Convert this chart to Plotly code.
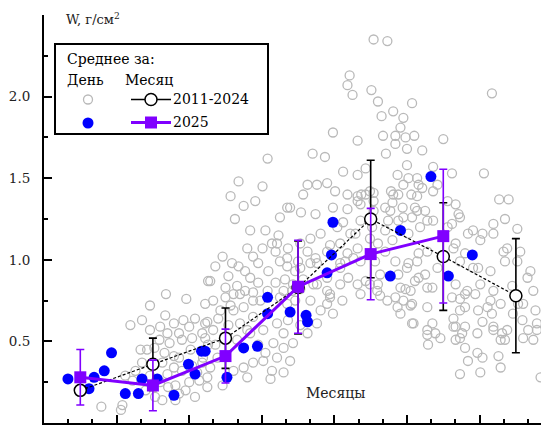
import plotly.graph_objects as go

# Daily means 2011-2024 (month as fractional value, W in g/cm^2)
day_hist_month = [
    3.29, 3.58, 3.56, 3.69, 3.85, 4.18, 4.46, 4.72, 4.17, 4.29, 4.10, 4.20, 4.36, 4.50, 4.58, 4.72,
    4.09, 4.23, 4.40, 4.54, 4.68, 4.16, 4.29, 4.36, 4.02, 4.13, 4.29, 4.40, 4.54, 4.68, 4.20, 4.10,
    4.21, 4.31, 4.45, 4.58, 4.75, 3.72, 3.76, 3.62, 4.03, 4.13, 4.31, 4.36, 4.50, 4.64, 3.85, 3.92,
    4.76, 3.96, 3.83, 3.96, 3.90, 4.52, 4.61, 4.76, 4.42, 3.96,
    4.83, 5.00, 5.11, 4.93, 5.11, 5.25, 5.38, 5.38, 5.20, 4.75, 4.83, 4.72, 5.16, 5.34, 5.52, 5.71,
    5.80, 5.66, 5.80, 5.93, 5.71, 5.52, 5.38, 5.25, 5.11, 5.30, 5.64, 5.62, 4.79, 4.75, 4.89, 4.69,
    6.40, 6.48, 6.26, 6.44, 6.61, 6.13, 6.31, 5.85, 5.96, 4.79, 5.04, 5.18, 5.30, 5.38, 5.34, 5.45,
    5.59, 5.69, 5.75, 5.64, 5.86, 6.03, 6.13, 6.24, 6.17, 6.00, 5.85, 5.69, 5.58, 5.20, 5.00, 5.16,
    5.38, 5.55, 5.73, 5.51, 5.58,
    4.86, 4.96, 5.09, 5.27, 5.45, 5.51, 5.82, 5.96, 6.07, 5.92, 5.48, 5.27, 5.07, 4.90, 5.04, 5.30,
    5.45, 5.55, 5.86, 6.03, 5.89, 5.80, 4.96, 4.86, 5.34, 5.13, 5.25, 5.41, 5.18, 5.07,
    6.20, 6.37, 6.62, 6.82, 6.93, 6.13, 6.40, 6.82, 6.93, 6.82, 5.85, 6.04, 6.24, 6.68, 6.17, 6.31,
    6.54, 6.62, 6.79, 6.58, 6.68, 6.82, 6.58, 6.69, 6.58, 6.82, 6.26, 6.40, 5.80, 6.03, 6.86, 6.99,
    7.34, 7.50, 7.64, 7.78, 7.66, 7.78, 7.55, 7.41, 7.57, 7.78, 7.41, 7.23, 7.09, 7.59, 7.78, 7.96,
    8.14, 8.23, 8.12, 8.33, 8.23, 8.47, 8.69, 8.79, 8.61, 8.69, 8.51, 8.41, 8.23, 8.14, 8.06, 7.86,
    7.64, 7.45, 7.27, 7.31, 7.45, 7.64, 7.86, 8.06, 8.23, 8.41, 8.51, 8.69, 8.88, 9.02, 9.16, 9.24,
    9.10, 8.96, 8.88, 9.10, 9.29, 7.13, 6.99, 6.86, 6.44, 6.17, 6.21, 6.40, 6.58, 6.76, 6.72, 6.86,
    7.04, 6.99, 6.86, 6.68, 6.48, 6.26, 6.07, 5.89, 5.75, 5.71, 5.85, 6.03, 6.40, 6.26, 5.93, 5.75,
    6.51, 6.44, 6.65, 7.20, 7.13, 6.93,
    7.04, 7.23, 6.71, 6.68, 6.75, 7.01, 7.10, 7.57, 8.67, 7.31, 7.45, 7.15, 7.41, 6.48, 6.82, 7.17,
    7.34, 7.48, 7.60, 7.34, 7.50, 7.71, 8.00, 7.21, 7.04, 7.28, 7.50, 7.86, 8.12, 8.56, 7.37, 7.66,
    7.38, 7.56, 7.71, 7.92, 7.52, 6.87, 8.77, 8.90, 7.30, 7.64, 7.44, 7.61, 7.75, 7.57, 7.38, 7.20,
    7.30, 7.52, 7.68, 7.78, 8.17, 8.21, 8.12, 8.34, 8.54, 8.69, 8.85, 9.02, 8.17, 8.30, 8.48, 8.65,
    8.83, 8.85, 7.66, 7.52, 7.38, 7.61, 7.75, 7.92, 7.85, 7.48, 8.17, 8.30, 7.10, 7.06, 7.10, 7.02,
    7.04, 7.20, 7.24,
    7.34, 7.45, 7.55, 7.37, 7.57, 7.85, 7.78, 7.89, 7.79, 8.23, 8.30, 8.14, 8.17, 8.30, 8.26, 8.17,
    8.30, 8.47, 8.54, 8.34, 8.23, 8.51, 8.79, 8.76, 8.48, 8.67, 8.54, 8.69, 8.81, 8.85, 8.65, 8.79,
    8.44, 9.09, 9.17, 9.24, 9.29, 9.34, 9.03, 9.06, 9.20, 8.95, 9.27,
]
day_hist_w = [
    0.10, 0.11, 0.08, 0.60, 0.63, 0.79, 0.76, 0.73, 0.66, 0.61, 0.59, 0.55, 0.55, 0.59, 0.64, 0.61,
    0.51, 0.49, 0.51, 0.52, 0.55, 0.43, 0.41, 0.40, 0.46, 0.37, 0.34, 0.32, 0.35, 0.37, 0.30, 0.25,
    0.22, 0.23, 0.20, 0.16, 0.22, 0.26, 0.32, 0.29, 0.16, 0.14, 0.14, 0.18, 0.25, 0.26, 0.37, 0.45,
    0.87, 0.57, 0.45, 0.29, 0.20, 0.45, 0.31, 0.48, 0.63, 0.72,
    0.75, 0.77, 0.79, 0.69, 0.69, 0.71, 0.75, 0.65, 0.61, 0.62, 0.57, 0.52, 0.51, 0.55, 0.57, 0.61,
    0.55, 0.49, 0.46, 0.49, 0.40, 0.38, 0.37, 0.34, 0.32, 0.28, 0.32, 0.27, 0.34, 0.28, 0.40, 0.40,
    0.73, 0.67, 0.61, 0.79, 0.75, 0.55, 0.69, 0.73, 0.75, 0.87, 0.90, 0.96, 1.07, 1.02, 0.89, 0.86,
    0.93, 1.05, 0.99, 1.10, 1.07, 1.10, 1.05, 1.01, 0.98, 0.99, 0.96, 0.86, 0.81, 0.79, 0.83, 0.84,
    0.80, 1.18, 1.15, 1.45, 1.62,
    0.96, 1.02, 0.98, 0.93, 0.98, 1.07, 0.88, 0.93, 0.88, 0.81, 0.75, 0.81, 0.72, 0.64, 0.60, 0.57,
    0.48, 0.43, 0.63, 0.60, 0.38, 0.31, 0.23, 0.48, 1.18, 1.25, 1.33, 1.36, 1.48, 1.39,
    1.65, 1.63, 1.54, 1.52, 1.56, 1.46, 1.47, 1.39, 1.40, 1.36, 1.32, 1.29, 1.28, 1.31, 1.13, 1.16,
    1.20, 1.23, 1.16, 1.10, 1.04, 1.07, 0.98, 0.89, 0.85, 0.85, 0.85, 0.81, 0.81, 0.82, 0.99, 1.13,
    0.99, 0.95, 0.99, 1.05, 0.89, 0.83, 0.81, 0.83, 0.73, 0.71, 0.67, 0.75, 0.81, 0.61, 0.57, 0.52,
    0.59, 0.69, 0.77, 0.81, 0.52, 0.55, 0.59, 0.51, 0.71, 0.81, 0.85, 0.95, 0.99, 1.07, 1.20, 1.24,
    1.30, 1.26, 1.30, 1.40, 1.46, 1.50, 1.42, 1.36, 1.26, 1.18, 1.12, 1.16, 1.07, 0.99, 0.89, 0.81,
    0.73, 0.67, 0.57, 0.52, 0.57, 0.91, 0.85, 0.79, 0.77, 0.75, 0.85, 0.89, 0.95, 1.01, 1.16, 1.24,
    1.36, 1.42, 1.34, 1.40, 1.32, 1.46, 1.40, 1.32, 1.26, 1.10, 1.01, 0.95, 1.05, 0.98, 0.85, 0.77,
    1.42, 1.09, 0.99, 1.05, 0.78, 0.87,
    2.35, 2.34, 2.13, 2.07, 2.01, 2.04, 1.97, 1.96, 2.02, 1.91, 1.87, 1.88, 1.81, 1.78, 1.73, 1.76,
    1.76, 1.75, 1.76, 1.71, 1.68, 1.67, 1.74, 1.65, 1.41, 1.42, 1.58, 1.57, 1.53, 1.53, 1.52, 1.46,
    1.40, 1.40, 1.44, 1.46, 1.50, 1.40, 1.37, 1.37, 1.35, 1.39, 1.32, 1.32, 1.30, 1.26, 1.24, 1.18,
    1.12, 1.16, 1.20, 1.24, 1.34, 1.28, 1.22, 1.16, 1.16, 1.22, 1.25, 1.19, 1.10, 1.04, 0.95, 0.93,
    1.05, 0.99, 1.04, 0.98, 0.91, 0.87, 0.91, 0.95, 0.83, 0.82, 0.85, 0.79, 0.85, 0.99, 1.10, 1.20,
    1.30, 1.32, 1.24,
    0.77, 0.75, 0.72, 0.71, 0.61, 0.61, 0.54, 0.55, 0.48, 0.76, 0.71, 0.64, 0.59, 0.59, 0.55, 0.51,
    0.46, 0.43, 0.40, 0.38, 0.30, 0.31, 0.34, 0.41, 0.69, 0.67, 0.62, 0.57, 0.55, 0.51, 0.75, 0.73,
    0.79, 0.63, 0.57, 0.51, 0.61, 0.28, 0.73, 1.05, 0.93, 0.84, 0.69,
]

# Daily means 2025
day_2025_month = [2.83, 3.12, 3.19, 3.33, 3.43, 3.62, 3.80, 3.85, 4.06, 4.29, 4.49, 4.58, 4.67, 4.72,
                  5.02, 5.25, 5.44, 5.58, 5.58, 5.89, 6.11, 6.13, 6.40, 6.46, 6.48, 7.27, 7.41, 7.83,
                  8.07, 8.40]
day_2025_w = [0.27, 0.21, 0.28, 0.32, 0.43, 0.18, 0.18, 0.27, 0.27, 0.17, 0.36, 0.30, 0.44, 0.44,
              0.28, 0.46, 0.47, 0.77, 0.67, 0.68, 0.66, 0.62, 0.92, 1.03, 1.23, 0.90, 1.18, 1.51,
              0.90, 1.03]

# Monthly means with standard deviations
months = [3, 4, 5, 6, 7, 8, 9]
mean_hist = [0.20, 0.36, 0.52, 0.83, 1.25, 1.02, 0.78]
sd_hist = [0.0, 0.16, 0.185, 0.285, 0.36, 0.33, 0.35]

months_2025 = [3, 4, 5, 6, 7, 8]
mean_2025 = [0.28, 0.23, 0.41, 0.835, 1.035, 1.145]
sd_2025 = [0.17, 0.155, 0.165, 0.285, 0.28, 0.41]

month_labels = ["3", "4", "5", "6", "7", "8", "9"]
y_ticks = [0.5, 1.0, 1.5, 2.0]

SERIF = "DejaVu Serif"
GRAY = "#b9b9b9"
BLUE = "#0000ff"
PURPLE = "#8000ff"

fig = go.Figure()

fig.add_trace(go.Scatter(
    x=day_hist_month, y=day_hist_w, mode="markers",
    marker=dict(symbol="circle-open", size=9, color=GRAY, line=dict(width=1.3, color=GRAY)),
    showlegend=False))

fig.add_trace(go.Scatter(
    x=day_2025_month, y=day_2025_w, mode="markers",
    marker=dict(symbol="circle", size=11, color=BLUE),
    showlegend=False))

fig.add_trace(go.Scatter(
    x=months, y=mean_hist, mode="lines+markers",
    line=dict(color="black", width=1.2, dash="3px,2px"),
    marker=dict(symbol="circle", size=12, color="white", line=dict(color="black", width=1.5)),
    error_y=dict(type="data", array=sd_hist, color="black", thickness=1.6, width=4),
    showlegend=False))

fig.add_trace(go.Scatter(
    x=months_2025, y=mean_2025, mode="lines+markers",
    line=dict(color=PURPLE, width=3),
    marker=dict(symbol="square", size=12, color=PURPLE),
    error_y=dict(type="data", array=sd_2025, color=PURPLE, thickness=1.6, width=4),
    showlegend=False))

# an empty trace so the month-label axis is drawn
fig.add_trace(go.Scatter(x=[], y=[], xaxis="x2", showlegend=False))

# axis ranges: month boundaries on the left, plot cut on the right
x_range = [months[0] - 0.5, 9.346]
y_range = [0, 2.5]

boundaries = [m - 0.5 for m in months] + [months[-1] + 0.5]
dekads = []
for m in months:
    dekads += [m - 1 / 6, m + 1 / 6]

fig.update_layout(
    width=541, height=437,
    margin=dict(l=44, r=0, t=15, b=14, autoexpand=False),
    paper_bgcolor="white", plot_bgcolor="white",
    font=dict(family=SERIF, size=14, color="#222"),
    xaxis=dict(
        range=x_range, showgrid=False, zeroline=False, automargin=False,
        showline=True, linecolor="black", linewidth=2,
        tickmode="array", tickvals=boundaries, showticklabels=False,
        ticks="inside", ticklen=8, tickwidth=1.6, tickcolor="black",
        minor=dict(tickmode="array", tickvals=dekads, ticks="inside", ticklen=4,
                   tickwidth=1.6, tickcolor="black", showgrid=False),
    ),
    xaxis2=dict(
        range=x_range, overlaying="x", anchor="y", side="bottom", automargin=False,
        showgrid=False, zeroline=False, showline=False,
        tickmode="array", tickvals=months, ticktext=month_labels,
        ticks="", ticklabelstandoff=15,
        tickfont=dict(family=SERIF, size=14, color="#222"),
    ),
    yaxis=dict(
        range=y_range, showgrid=False, zeroline=False, automargin=False,
        showline=True, linecolor="black", linewidth=2,
        tickmode="array", tickvals=y_ticks, ticktext=[f"{v:.1f}" for v in y_ticks],
        ticks="inside", ticklen=8, tickwidth=1.6, tickcolor="black", ticklabelstandoff=9,
        tickfont=dict(family=SERIF, size=13.5, color="#222"),
        minor=dict(tickmode="array", tickvals=[0.25, 0.75, 1.25, 1.75, 2.25], ticks="inside",
                   ticklen=4, tickwidth=1.6, tickcolor="black", showgrid=False),
    ),
)

# axis titles placed inside the plot
fig.add_annotation(xref="paper", yref="paper", x=0.04, y=0.99, xanchor="left", yanchor="middle",
                   text="W, г/см<sup>2</sup>", showarrow=False,
                   font=dict(family=SERIF, size=13, color="#222"))
fig.add_annotation(xref="paper", yref="paper", x=0.587, y=0.074, xanchor="center", yanchor="middle",
                   text="Месяцы", showarrow=False,
                   font=dict(family=SERIF, size=14, color="#222"))


# legend panel, positioned in plot-area fractions
def px(xp):
    return (xp - 44) / 497


def py(yp):
    return (423 - yp) / 408


fig.add_shape(type="rect", xref="paper", yref="paper", x0=px(55), x1=px(268), y0=py(134), y1=py(44),
              line=dict(color="black", width=2), fillcolor="white", layer="above")

legend_font = dict(family=SERIF, size=14, color="black")
fig.add_annotation(xref="paper", yref="paper", x=px(65), y=py(59), xanchor="left", yanchor="middle",
                   text="Среднее за:", showarrow=False, font=legend_font)
fig.add_annotation(xref="paper", yref="paper", x=px(65), y=py(80), xanchor="left", yanchor="middle",
                   text="День", showarrow=False, font=legend_font)
fig.add_annotation(xref="paper", yref="paper", x=px(123), y=py(80), xanchor="left", yanchor="middle",
                   text="Месяц", showarrow=False, font=legend_font)
fig.add_annotation(xref="paper", yref="paper", x=px(171), y=py(99), xanchor="left", yanchor="middle",
                   text="2011-2024", showarrow=False, font=legend_font)
fig.add_annotation(xref="paper", yref="paper", x=px(171), y=py(122), xanchor="left", yanchor="middle",
                   text="2025", showarrow=False, font=legend_font)


def dot(cx, cy, r, fill, line_color, lw):
    fig.add_shape(type="circle", xref="paper", yref="paper", xsizemode="pixel", ysizemode="pixel",
                  xanchor=px(cx), yanchor=py(cy), x0=-r, x1=r, y0=-r, y1=r,
                  fillcolor=fill, line=dict(color=line_color, width=lw), layer="above")


# day symbols
dot(88, 99.5, 4.5, "white", GRAY, 1.3)
dot(88, 123, 5.5, BLUE, BLUE, 0)
# month symbols: line + marker
fig.add_shape(type="line", xref="paper", yref="paper", x0=px(131), x1=px(171), y0=py(99.5), y1=py(99.5),
              line=dict(color="black", width=1.5), layer="above")
dot(151, 99.5, 6, "white", "black", 1.5)
fig.add_shape(type="line", xref="paper", yref="paper", x0=px(131), x1=px(171), y0=py(122.5), y1=py(122.5),
              line=dict(color=PURPLE, width=3), layer="above")
fig.add_shape(type="rect", xref="paper", yref="paper", xsizemode="pixel", ysizemode="pixel",
              xanchor=px(151), yanchor=py(122.5), x0=-6, x1=6, y0=-6, y1=6,
              fillcolor=PURPLE, line=dict(width=0), layer="above")

fig.write_html("out.html")
